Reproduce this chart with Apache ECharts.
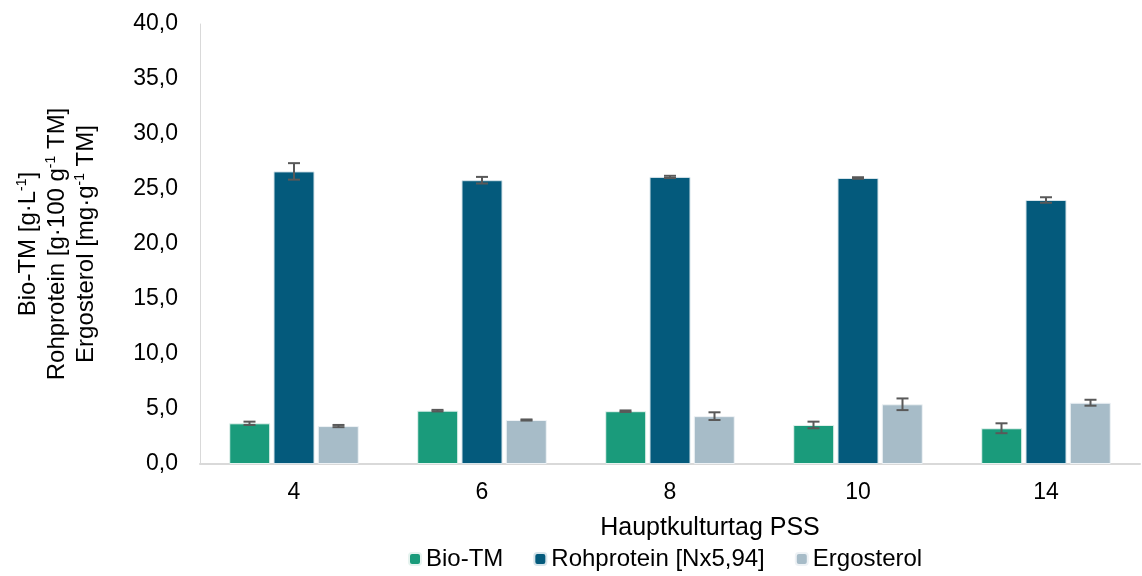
<!DOCTYPE html>
<html>
<head>
	<meta charset="utf-8">
	<title>Hauptkultur PSS</title>
	<script type="text/javascript" src="https://cdn.jsdelivr.net/npm/echarts@6/dist/echarts.min.js"></script>
	<style>html,body{margin:0;padding:0;background:#fff;}</style>
</head>
<body>
	<div id="main" style="width:1142px;height:576px;"></div>
	<script type="text/javascript">
var days = ['4', '6', '8', '10', '14'];
var bioTM = [3.7, 4.85, 4.8, 3.55, 3.25];
var bioTMErr = [0.15, 0.07, 0.07, 0.3, 0.45];
var rohprotein = [26.6, 25.8, 26.1, 26.0, 24.0];
var rohproteinErr = [0.75, 0.3, 0.1, 0.07, 0.25];
var ergosterol = [3.45, 4.0, 4.35, 5.43, 5.57];
var ergosterolErr = [0.1, 0.05, 0.35, 0.53, 0.27];

var font = 'Liberation Sans, Arial, sans-serif';
var barW = 41;
var step = 44.5; // bar width + gap

// error bar drawer, shifted onto its bar inside the group
var errorBar = function (name, vals, errs, offset) {
    return {
        name: name + ' err',
        type: 'custom',
        z: 5,
        silent: true,
        data: vals.map(function (v, i) { return [i, v - errs[i], v + errs[i]]; }),
        renderItem: function (params, api) {
            var lo = api.coord([api.value(0), api.value(1)]);
            var hi = api.coord([api.value(0), api.value(2)]);
            var x = lo[0] + offset;
            var cap = 6;
            var st = { stroke: '#595959', lineWidth: 2 };
            return {
                type: 'group',
                children: [
                    { type: 'line', shape: { x1: x, y1: lo[1], x2: x, y2: hi[1] }, style: st },
                    { type: 'line', shape: { x1: x - cap, y1: hi[1], x2: x + cap, y2: hi[1] }, style: st },
                    { type: 'line', shape: { x1: x - cap, y1: lo[1], x2: x + cap, y2: lo[1] }, style: st }
                ]
            };
        }
    };
};

var option = {
    backgroundColor: '#fff',
    animation: false,
    grid: { left: 200, right: 2, top: 24, bottom: 112, outerBoundsMode: 'none', containLabel: false },
    legend: {
        left: 403,
        bottom: 0,
        itemWidth: 12,
        itemHeight: 12,
        itemGap: 30,
        data: ['Bio-TM', 'Rohprotein [Nx5,94]', 'Ergosterol'],
        textStyle: { fontFamily: font, fontSize: 24, color: '#000', padding: [0, 0, 0, 0] }
    },
    xAxis: {
        type: 'category',
        data: days,
        name: 'Hauptkulturtag PSS',
        nameLocation: 'middle',
        nameGap: 52,
        nameTextStyle: { fontFamily: font, fontSize: 25, color: '#000', padding: [0, 0, 0, 80] },
        axisLine: { lineStyle: { color: '#d9d9d9', width: 2 } },
        axisTick: { show: false },
        axisLabel: { fontFamily: font, fontSize: 23, color: '#000', margin: 17 }
    },
    yAxis: {
        type: 'value',
        min: 0,
        max: 40,
        interval: 5,
        name: '{t|Bio-TM [g·L}{s|-1}{t|]}\n{t|Rohprotein [g·100 g}{s|-1}{t| TM]}\n{t|Ergosterol [mg·g}{s|-1}{t| TM]}',
        nameLocation: 'middle',
        nameGap: 99,
        nameRotate: 90,
        nameTextStyle: {
            align: 'center',
            rich: {
                t: { fontFamily: font, fontSize: 24, color: '#000', lineHeight: 29 },
                s: { fontFamily: font, fontSize: 14, color: '#000', lineHeight: 29, padding: [0, 0, 12, 0] }
            }
        },
        axisLine: { show: true, lineStyle: { color: '#d9d9d9', width: 1 } },
        axisTick: { show: false },
        splitLine: { show: false },
        axisLabel: {
            fontFamily: font, fontSize: 23, color: '#000', margin: 22,
            formatter: function (v) { return v.toFixed(1).replace('.', ','); }
        }
    },
    series: [
        {
            name: 'Bio-TM', type: 'bar', data: bioTM, barWidth: barW, barGap: '8%',
            itemStyle: { color: '#1a9b7b', borderColor: '#e6f3ef', borderWidth: 1 }
        },
        {
            name: 'Rohprotein [Nx5,94]', type: 'bar', data: rohprotein, barWidth: barW, barGap: '8%',
            itemStyle: { color: '#045a7c', borderColor: '#d6e4ea', borderWidth: 1 }
        },
        {
            name: 'Ergosterol', type: 'bar', data: ergosterol, barWidth: barW, barGap: '8%',
            itemStyle: { color: '#a7bcc8', borderColor: '#eef2f5', borderWidth: 1 }
        },
        errorBar('Bio-TM', bioTM, bioTMErr, -step),
        errorBar('Rohprotein', rohprotein, rohproteinErr, 0),
        errorBar('Ergosterol', ergosterol, ergosterolErr, step)
    ]
};

var myChart = echarts.init(document.getElementById('main'));
myChart.setOption(option);
	</script>
</body>
</html>
